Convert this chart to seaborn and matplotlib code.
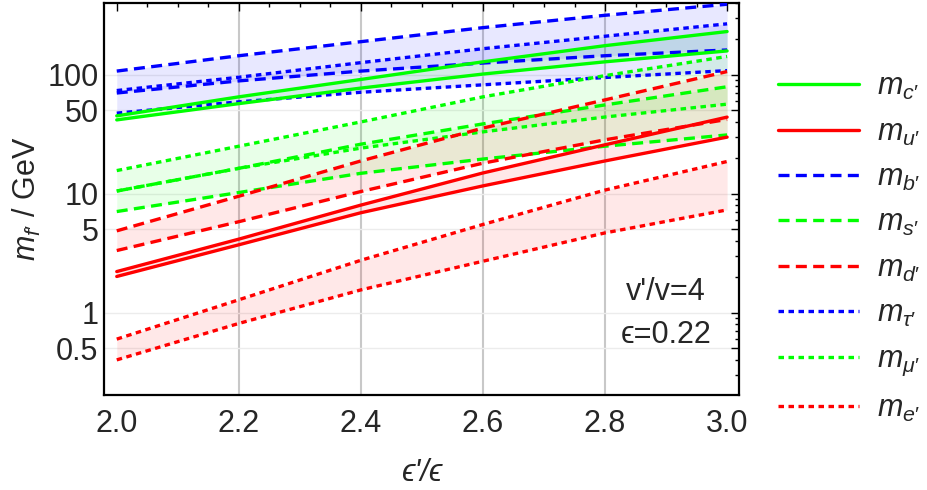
import numpy as np
import pandas as pd
import matplotlib
matplotlib.use("Agg")
import matplotlib.pyplot as plt
from matplotlib.lines import Line2D
from matplotlib.ticker import FixedLocator, NullFormatter, MultipleLocator
import seaborn as sns

# values (x = eps'/eps)
x_vals = [2.0, 2.2, 2.4, 2.6, 2.8, 3.0]

m_b_up = [107, 144, 189, 248, 315, 390]
m_b_lo = [70, 88.5, 107, 125, 144, 161]
m_tau_up = [73.4, 95, 126, 165, 210, 267]
m_tau_lo = [47.4, 59, 71, 82, 94.5, 108]
m_c_up = [45, 65, 91, 128, 175, 230]
m_c_lo = [41.6, 57, 77, 101, 128, 158]
m_mu_up = [15.6, 25, 40, 65, 98, 142]
m_mu_lo = [10.5, 16.3, 24.1, 33, 44, 56.4]
m_s_up = [10.5, 16.3, 26, 38.5, 55.6, 79]
m_s_lo = [7.06, 10.2, 14.8, 19.5, 25, 31.1]
m_d_up = [4.86, 9.5, 18.8, 35.5, 61.3, 106]
m_d_lo = [3.32, 5.8, 10.4, 18, 28.3, 42]
m_u_up = [2.21, 4.14, 8.0, 14.9, 25.7, 43.9]
m_u_lo = [2.01, 3.71, 6.9, 11.6, 18.8, 29.8]
m_e_up = [0.598, 1.28, 2.75, 5.5, 10.7, 18.6]
m_e_lo = [0.40, 0.81, 1.55, 2.7, 4.67, 7.29]

legend_order = ["c", "u", "b", "s", "d", "tau", "mu", "e"]
legend_labels = ["$m_{c′}$", "$m_{u′}$", "$m_{b′}$", "$m_{s′}$",
                 "$m_{d′}$", r"$m_{\tau′}$", r"$m_{\mu′}$", "$m_{e′}$"]
y_ticks = [0.5, 1, 5, 10, 50, 100]
y_ticklabels = ["0.5", "1", "5", "10", "50", "100"]

GREEN = "#00ff00"
RED = "#ff0000"
BLUE = "#0000ff"
SOLID = "-"
DASHED = (0, (3.3, 1.9))
DOTTED = (0, (1.65, 1.35))

bands = {
    "b": (m_b_up, m_b_lo, BLUE, DASHED),
    "tau": (m_tau_up, m_tau_lo, BLUE, DOTTED),
    "c": (m_c_up, m_c_lo, GREEN, SOLID),
    "mu": (m_mu_up, m_mu_lo, GREEN, DOTTED),
    "s": (m_s_up, m_s_lo, GREEN, DASHED),
    "d": (m_d_up, m_d_lo, RED, DASHED),
    "u": (m_u_up, m_u_lo, RED, SOLID),
    "e": (m_e_up, m_e_lo, RED, DOTTED),
}

sns.set_style("white")
plt.rcParams['font.family'] = ['Liberation Sans', 'DejaVu Sans']
plt.rcParams['mathtext.fontset'] = 'custom'
plt.rcParams['mathtext.rm'] = 'Liberation Sans'
plt.rcParams['mathtext.it'] = 'Liberation Sans:italic'
plt.rcParams['mathtext.fallback'] = 'stixsans'

FS = 22
fig = plt.figure(figsize=(9.28, 4.90), dpi=100)
ax = fig.add_axes([0.112, 0.194, 0.684, 0.800])

LW = 2.4
for name, (up, lo, col, ls) in bands.items():
    ax.fill_between(x_vals, lo, up, color=col, alpha=0.09, lw=0, zorder=1)
    for arr in (up, lo):
        df = pd.DataFrame({"x": x_vals, "m": arr})
        sns.lineplot(data=df, x="x", y="m", color=col, linewidth=LW,
                     linestyle=ls, ax=ax, zorder=3)
for ln in ax.lines:
    ln.set_dash_capstyle("butt")

ax.set_yscale("log")
ax.set_xlim(1.979, 3.019)
ax.set_ylim(0.203, 400)

# grid lines
for gx in [2.2, 2.4, 2.6, 2.8]:
    ax.axvline(gx, color="#c8c8c8", lw=1.5, zorder=0.5)
for gy in y_ticks:
    ax.axhline(gy, color="#ececec", lw=1.0, zorder=0.5)

ax.xaxis.set_major_locator(MultipleLocator(0.2))
ax.xaxis.set_minor_locator(MultipleLocator(0.05))
ax.xaxis.set_major_formatter(matplotlib.ticker.FormatStrFormatter("%.1f"))
minor_y = [d * k for d in [0.1, 1, 10, 100] for k in range(1, 10)]
minor_y = [v for v in minor_y if v not in y_ticks]
ax.yaxis.set_major_locator(FixedLocator(y_ticks))
ax.yaxis.set_minor_locator(FixedLocator(minor_y))
ax.set_yticklabels(y_ticklabels)
ax.yaxis.set_minor_formatter(NullFormatter())

ax.tick_params(which="both", direction="in", top=True, right=True,
               color="black", width=1.0, labelsize=FS)
ax.tick_params(which="major", length=6)
ax.tick_params(which="minor", length=3)
ax.tick_params(axis="x", pad=10)
ax.tick_params(axis="y", pad=4)
for sp in ax.spines.values():
    sp.set_color("black")
    sp.set_linewidth(1.6)

ax.set_xlabel("ϵ'/ϵ", fontsize=FS, fontstyle="italic", labelpad=14)
ax.set_ylabel("$m_{f′}$ / GeV", fontsize=FS, labelpad=3)

ax.text(0.885, 0.263, "v'/v=4", transform=ax.transAxes, ha="center",
        va="center", fontsize=FS)
ax.text(0.885, 0.153, "ϵ=0.22", transform=ax.transAxes, ha="center",
        va="center", fontsize=FS)

handles = []
for name in legend_order:
    up, lo, col, ls = bands[name]
    handles.append(Line2D([0], [0], color=col, lw=LW, linestyle=ls,
                          dash_capstyle="butt"))
fig.legend(handles, legend_labels, loc="upper left",
           bbox_to_anchor=(0.838, 0.853), frameon=False, fontsize=FS,
           handlelength=2.65, handletextpad=0.6, labelspacing=0.5,
           borderpad=0, borderaxespad=0)

fig.savefig("out.png", dpi=100)
